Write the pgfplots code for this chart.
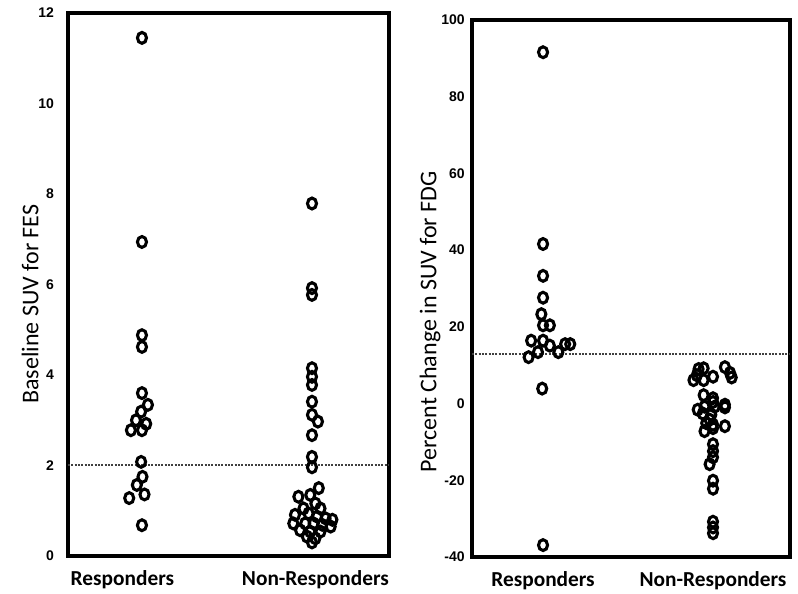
\documentclass[border=0pt]{standalone}
\usepackage{fontspec}
\setmainfont{Carlito}
\newfontfamily\tickfont{Liberation Sans}
\usepackage{pgfplots}
\pgfplotsset{compat=1.18}
\pgfplotstableread{
x y
1.000 11.45
1.000 6.94
1.000 4.88
1.000 4.62
1.000 3.60
1.035 3.34
0.995 3.19
0.965 3.00
1.025 2.92
0.935 2.78
1.000 2.78
0.995 2.08
1.003 1.75
0.970 1.57
1.015 1.36
0.925 1.28
1.000 0.68
}\leftresp
\pgfplotstableread{
x y
2.000 7.79
2.000 5.92
2.000 5.77
2.000 4.15
2.000 3.96
2.000 3.78
2.000 3.41
2.000 3.12
2.035 2.97
2.000 2.67
2.000 2.19
2.000 1.96
2.040 1.50
1.920 1.31
1.990 1.35
2.020 1.16
1.950 1.05
2.050 1.05
1.900 0.91
1.980 0.94
2.030 0.87
2.080 0.83
2.120 0.80
1.890 0.72
1.960 0.72
2.010 0.72
2.060 0.69
2.110 0.65
1.930 0.57
1.990 0.54
2.050 0.54
1.970 0.43
2.020 0.39
2.000 0.30
}\leftnon
\pgfplotstableread{
x y
1.000 91.6
1.000 41.6
1.000 33.3
1.000 27.6
0.990 23.3
1.000 20.4
1.040 20.4
0.930 16.4
1.000 16.4
1.040 15.1
1.130 15.5
1.160 15.5
0.970 13.4
1.090 13.4
0.915 12.1
0.995 3.9
1.000 -36.9
}\rightresp
\pgfplotstableread{
x y
1.915 9.0
1.945 9.2
1.905 7.4
1.885 6.1
1.945 6.1
2.000 7.0
2.070 9.5
2.100 8.0
2.110 6.8
1.945 2.2
2.000 1.4
2.000 0.4
2.070 -0.3
1.950 -0.8
2.010 -0.8
2.070 -1.0
1.910 -1.6
1.940 -2.6
1.990 -2.9
1.980 -4.2
1.960 -5.1
2.000 -5.5
2.070 -5.9
2.000 -6.4
1.950 -7.2
2.000 -10.6
2.000 -12.4
2.000 -14.0
1.980 -15.8
2.000 -20.1
2.000 -22.2
2.000 -30.8
2.000 -32.3
2.000 -33.8
}\rightnon
\pgfplotsset{
  myax/.style={
    scale only axis,
    anchor=south west,
    axis line style={line width=2.6pt},
    major tick length=0pt,
    xtick style={draw=none}, ytick style={draw=none},
    /pgf/number format/assume math mode=true,
    yticklabel style={font=\tickfont\bfseries\fontsize{10.5}{11}\selectfont},
    xticklabel style={font=\bfseries\fontsize{16}{18}\selectfont, yshift=-7pt},
    ylabel style={font=\fontsize{18}{20}\selectfont, anchor=center},
  },
  dots/.style={only marks, mark=o, mark size=3.4pt, black, mark options={line width=2.3pt, yscale=1.2}},
  refl/.style={densely dotted, line width=1.5pt, black!75, forget plot},
}
\begin{document}
\begin{tikzpicture}
\path (0pt,0pt) rectangle (598.5pt,444.75pt);
\begin{axis}[myax, at={(51pt,27.75pt)}, width=240.75pt, height=407.25pt,
  xmin=0.565, xmax=2.453, ymin=0, ymax=12, ytick={0,2,...,12},
  xtick={0.885,2.02}, xticklabels={Responders,Non-Responders},
  yticklabel style={xshift=-7pt},
  ylabel={Baseline SUV for FES},
  ylabel style={at={(axis description cs:-0.118,0.464)}}]
\addplot[refl] coordinates {(0.565,2) (2.453,2)};
\addplot[dots] table[x=x,y=y] {\leftresp};
\addplot[dots] table[x=x,y=y] {\leftnon};
\end{axis}
\begin{axis}[myax, at={(354pt,27pt)}, width=238.5pt, height=402.75pt,
  xmin=0.582, xmax=2.453, ymin=-40, ymax=100, ytick={-40,-20,...,100},
  xtick={1,2}, xticklabels={Responders,Non-Responders},
  yticklabel style={xshift=-2pt},
  ylabel={Percent Change in SUV for FDG},
  ylabel style={at={(axis description cs:-0.132,0.438)}}]
\addplot[refl] coordinates {(0.582,13) (2.453,13)};
\addplot[dots] table[x=x,y=y] {\rightresp};
\addplot[dots] table[x=x,y=y] {\rightnon};
\end{axis}
\end{tikzpicture}
\end{document}
